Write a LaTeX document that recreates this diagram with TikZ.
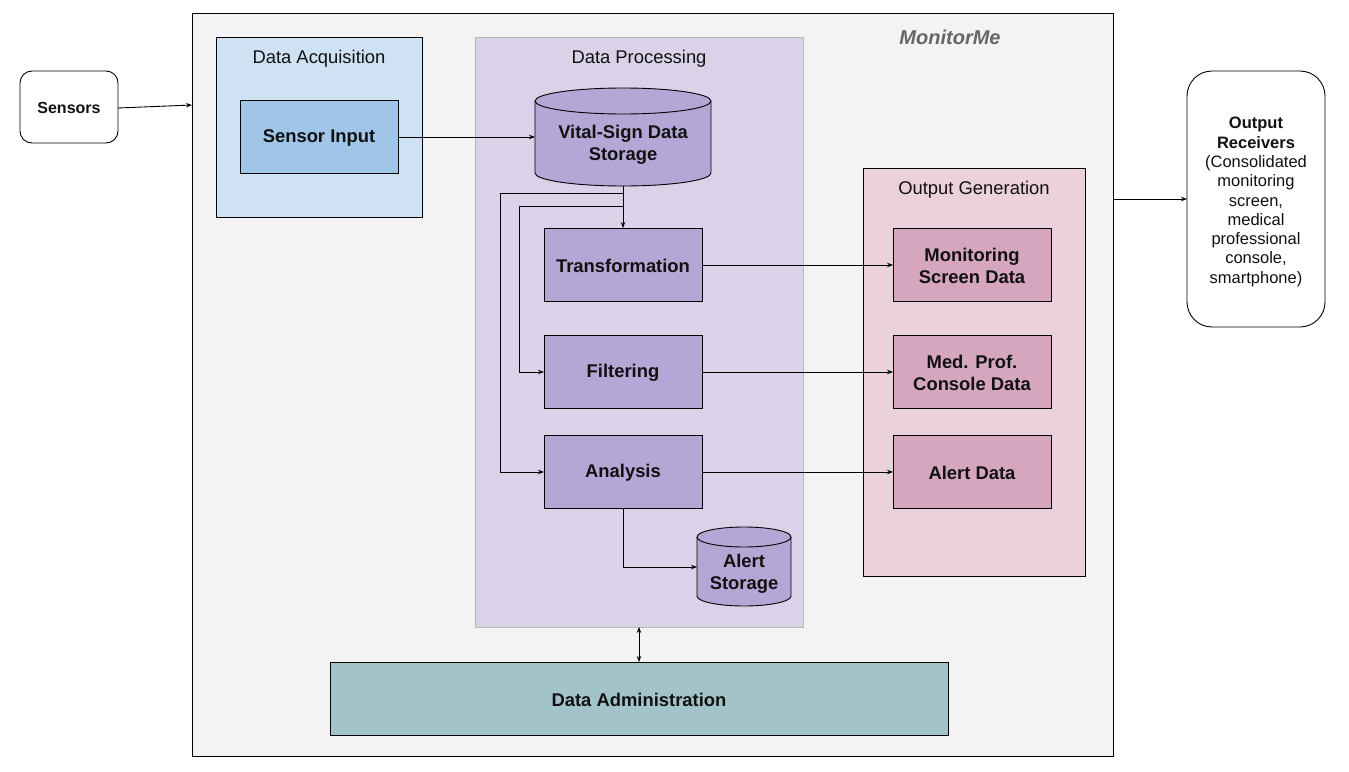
\documentclass[tikz,border=0pt]{standalone}
\usepackage{fontspec}
\setmainfont{Liberation Sans}
\usetikzlibrary{arrows.meta,shapes.geometric}
\definecolor{framebg}{HTML}{F3F3F3}
\definecolor{acqbg}{HTML}{CFE2F3}
\definecolor{acqbox}{HTML}{9FC5E8}
\definecolor{procbg}{HTML}{D9D2E9}
\definecolor{procbox}{HTML}{B4A7D6}
\definecolor{procborder}{HTML}{B7B7B7}
\definecolor{outbg}{HTML}{EAD1DC}
\definecolor{outbox}{HTML}{D5A6BD}
\definecolor{adminbg}{HTML}{A2C4C9}
\definecolor{txt}{HTML}{111111}
\definecolor{brand}{HTML}{666666}
\tikzset{
  x=1pt, y=-1pt,
  every node/.style={text=txt},
  lbl/.style={font=\fontsize{18.4}{22}\selectfont\bfseries, align=center},
  ttl/.style={font=\fontsize{18.4}{22}\selectfont},
  boxs/.style={draw=black, line width=0.9pt},
  conn/.style={draw=black, line width=0.9pt, -{Stealth[length=6pt,width=4.5pt]}},
  dconn/.style={draw=black, line width=0.9pt, {Stealth[length=6pt,width=4.5pt]}-{Stealth[length=6pt,width=4.5pt]}},
}
\begin{document}
\begin{tikzpicture}
\useasboundingbox (0,0) rectangle (1349,771);
\fill[white] (0,0) rectangle (1349,771);
% main frame
\draw[boxs, fill=framebg] (192,13) rectangle (1113,756);
\node[font=\fontsize{20}{24}\selectfont\bfseries\itshape, text=brand] (brandname) at (950,37) {MonitorMe};
\coordinate (frameL) at (192,105);
\coordinate (frameR) at (1113,199);
% sensors
\draw[boxs, fill=white, rounded corners=12pt] (20,71) rectangle (118,143);
\node[lbl, font=\fontsize{16}{19}\selectfont\bfseries] (sensors) at (69,108) {Sensors};
\coordinate (sensR) at (118,108);
% data acquisition
\draw[boxs, fill=acqbg] (216,37) rectangle (422,217);
\node[ttl] (acqt) at (319,59) {Data Acquisition};
\draw[boxs, fill=acqbox] (240,100) rectangle (398,173);
\node[lbl] (sensin) at (319,138) {Sensor Input};
\coordinate (sensinR) at (398,137);
% data processing
\draw[draw=procborder, line width=0.9pt, fill=procbg] (475,37) rectangle (803,627);
\node[ttl] (proct) at (639,59) {Data Processing};
% vital sign cylinder
\draw[boxs, fill=procbox] (535,101) -- (535,173) arc[start angle=180,end angle=0,x radius=88,y radius=13] -- (711,101) arc[start angle=0,end angle=-180,x radius=88,y radius=13] -- cycle;
\draw[boxs] (535,101) arc[start angle=180,end angle=0,x radius=88,y radius=13];
\node[lbl] (vital) at (623,145) {Vital-Sign Data\\Storage};
\coordinate (vitalL) at (535,137);
\coordinate (vitalB) at (623,186);
% processing boxes
\draw[boxs, fill=procbox] (544,228) rectangle (702,301);
\node[lbl] (transf) at (623,266) {Transformation};
\draw[boxs, fill=procbox] (544,335) rectangle (702,408);
\node[lbl] (filt) at (623,373) {Filtering};
\draw[boxs, fill=procbox] (544,435) rectangle (702,508);
\node[lbl] (anal) at (623,473) {Analysis};
% alert storage cylinder
\draw[boxs, fill=procbox] (697,537) -- (697,596) arc[start angle=180,end angle=0,x radius=47,y radius=10] -- (791,537) arc[start angle=0,end angle=-180,x radius=47,y radius=10] -- cycle;
\draw[boxs] (697,537) arc[start angle=180,end angle=0,x radius=47,y radius=10];
\node[lbl] (alerts) at (744,574) {Alert\\Storage};
% output generation
\draw[boxs, fill=outbg] (863,168) rectangle (1085,576);
\node[ttl] (outt) at (974,190) {Output Generation};
\draw[boxs, fill=outbox] (893,228) rectangle (1051,301);
\node[lbl] (mon) at (972,266) {Monitoring\\Screen Data};
\draw[boxs, fill=outbox] (893,335) rectangle (1051,408);
\node[lbl] (med) at (972,373) {Med. Prof.\\Console Data};
\draw[boxs, fill=outbox] (893,435) rectangle (1051,508);
\node[lbl] (alertd) at (972,473) {Alert Data};
% output receivers
\draw[boxs, fill=white, rounded corners=25pt] (1187,71) rectangle (1325,327);
\node[align=center, font=\fontsize{16.5}{19.3}\selectfont] (recv) at (1256,202) {\textbf{Output}\\\textbf{Receivers}\\(Consolidated\\monitoring\\screen,\\medical\\professional\\console,\\smartphone)};
\coordinate (recvL) at (1187,199);
% data administration
\draw[boxs, fill=adminbg] (330,662) rectangle (948,735);
\node[lbl] (admin) at (639,700) {Data Administration};
\coordinate (procB) at (639,627);
\coordinate (adminT) at (639,662);
% connectors
\draw[conn] (sensR) -- (frameL);
\draw[conn] (sensinR) -- (vitalL);
\draw[conn] (vitalB) -- (623,228);
\draw[conn] (623,193) -- (500,193) -- (500,472) -- (544,472);
\draw[conn] (623,206) -- (519,206) -- (519,372) -- (544,372);
\draw[conn] (702,265) -- (893,265);
\draw[conn] (702,372) -- (893,372);
\draw[conn] (702,472) -- (893,472);
\draw[conn] (623,508) -- (623,567) -- (697,567);
\draw[conn] (frameR) -- (recvL);
\draw[dconn] (procB) -- (adminT);
\end{tikzpicture}
\end{document}
